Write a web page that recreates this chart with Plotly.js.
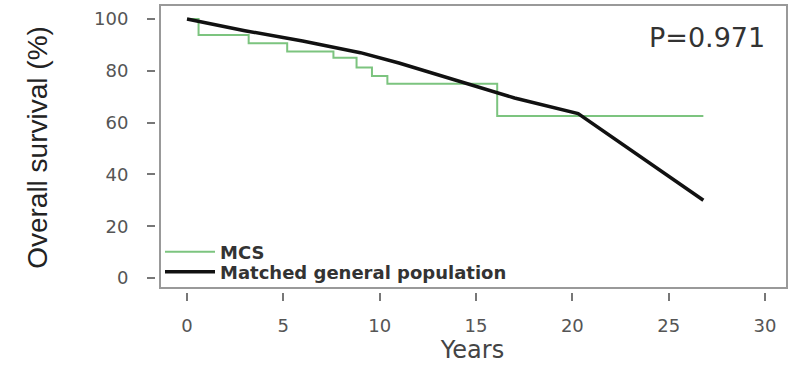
<!DOCTYPE html>
<html>
<head>
<meta charset="utf-8">
<script src="https://cdn.plot.ly/plotly-3.0.1.min.js"></script>
<style>html,body{margin:0;padding:0;background:#fff;}#chart{width:790px;height:366px;}</style>
</head>
<body>
<div id="chart"></div>
<script>
// MCS Kaplan-Meier estimate (step function)
const mcsYears = [0, 0.6, 3.2, 5.2, 7.6, 8.8, 9.6, 10.4, 16.1, 26.8];
const mcsSurv  = [100, 93.8, 90.6, 87.5, 85, 81.3, 78, 75, 62.5, 62.5];
// Matched general population expected survival
const genYears = [0, 3, 6, 9, 11, 13, 15, 17, 20.3, 26.8];
const genSurv  = [100, 95.5, 91.5, 87, 83, 78.5, 74, 69.5, 63.5, 30];
const xTicks = [0, 5, 10, 15, 20, 25, 30];
const yTicks = [0, 20, 40, 60, 80, 100];
const seriesNames = ["MCS", "Matched general population"];
const pText = "P=0.971";

const traces = [
  {x: mcsYears, y: mcsSurv, name: seriesNames[0], mode: "lines", legend: "legend",
   line: {color: "#7cc47f", width: 2, shape: "hv"}},
  {x: genYears, y: genSurv, name: seriesNames[1], mode: "lines", legend: "legend2",
   line: {color: "#111111", width: 3.5}}
];

const W = 790, H = 366;
const plotL = 156, plotR = 789, plotT = 3, plotB = 292;
const pw = plotR - plotL, ph = plotB - plotT;
const frame = {l: 160, r: 787, t: 5, b: 288};
const px = v => (v - plotL) / pw;
const py = v => (plotB - v) / ph;

const legFont = {family: "DejaVu Sans", size: 18, color: "#333", weight: "bold"};
const legBase = {xanchor: "left", yanchor: "middle", bgcolor: "rgba(0,0,0,0)",
                 font: legFont, itemwidth: 50, borderwidth: 0};
const tickFont = {family: "DejaVu Sans", size: 18, color: "#555"};
const layout = {
  width: W, height: H,
  margin: {l: plotL, r: W - plotR, t: plotT, b: H - plotB, pad: 0},
  paper_bgcolor: "#fff", plot_bgcolor: "#fff",
  showlegend: true,
  legend: Object.assign({x: px(160), y: py(252)}, legBase),
  legend2: Object.assign({x: px(160), y: py(272)}, legBase),
  xaxis: {range: [-1.609, 31.245], tickvals: xTicks, ticktext: xTicks.map(String),
          showgrid: false, zeroline: false, showline: false,
          ticks: "outside", ticklen: 8, tickwidth: 2, tickcolor: "#777",
          tickfont: tickFont, ticklabelstandoff: 9,
          title: {text: "Years", font: {family: "DejaVu Sans", size: 24, color: "#444"}, standoff: 6}},
  yaxis: {range: [-5.41, 106.18], tickvals: yTicks, ticktext: yTicks.map(String),
          showgrid: false, zeroline: false, showline: false,
          ticks: "outside", ticklen: 8, tickwidth: 2, tickcolor: "#777",
          tickfont: tickFont, ticklabelstandoff: 15,
          title: {text: "Overall survival (%)", font: {family: "Liberation Sans", size: 28, color: "#222"}, standoff: 38}},
  shapes: [{type: "rect", xref: "paper", yref: "paper",
            x0: px(frame.l), x1: px(frame.r), y0: py(frame.b), y1: py(frame.t),
            line: {color: "#999", width: 2}, fillcolor: "rgba(0,0,0,0)", layer: "below"}],
  annotations: [{text: pText, xref: "paper", yref: "paper",
                 x: px(767), y: py(38), xanchor: "right", yanchor: "middle",
                 showarrow: false, font: {family: "DejaVu Sans", size: 27, color: "#333"}}]
};

Plotly.newPlot("chart", traces, layout, {displayModeBar: false, staticPlot: true});
</script>
</body>
</html>
